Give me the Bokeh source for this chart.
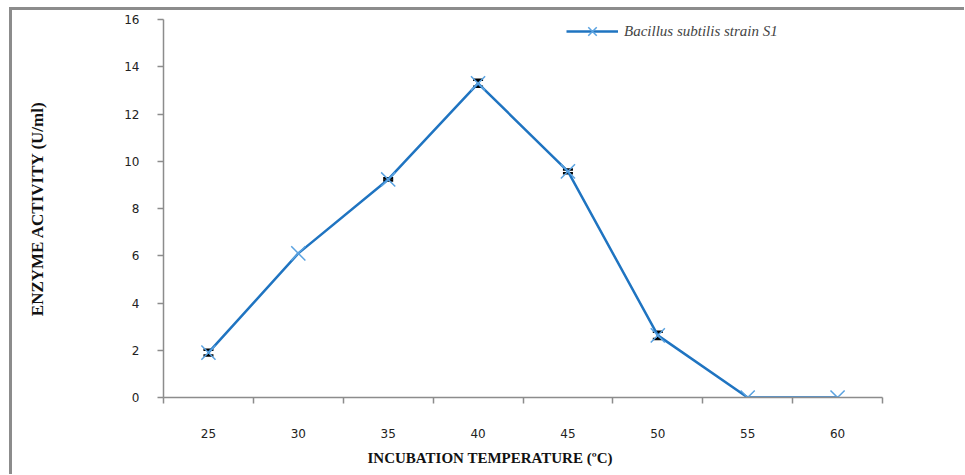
from bokeh.plotting import figure
from bokeh.models import (ColumnDataSource, FixedTicker, Whisker, TeeHead, Legend, LegendItem, Range1d, Title)
from bokeh.embed import file_html
from bokeh.resources import INLINE

# Data
temperatures = [25, 30, 35, 40, 45, 50, 55, 60]
activity = [1.9, 6.1, 9.23, 13.3, 9.57, 2.63, 0.0, 0.0]
error = [0.12, 0.0, 0.05, 0.15, 0.08, 0.15, 0.0, 0.0]
y_ticks = [0, 2, 4, 6, 8, 10, 12, 14, 16]
series_name = "Bacillus subtilis strain S1"
x_title = "INCUBATION TEMPERATURE (ºC)"
y_title = "ENZYME ACTIVITY (U/ml)"

xpos = [i + 0.5 for i in range(len(temperatures))]
src = ColumnDataSource(dict(x=xpos, y=activity))
err_src = ColumnDataSource(dict(
    x=[x for x, e in zip(xpos, error) if e > 0],
    upper=[a + e for a, e in zip(activity, error) if e > 0],
    lower=[a - e for a, e in zip(activity, error) if e > 0],
))

AX = "#8c8c8c"
p = figure(width=955, height=467, output_backend="svg", toolbar_location=None,
           x_range=Range1d(0, len(temperatures)), y_range=Range1d(0, 16),
           min_border_left=151, min_border_right=85, min_border_top=9, min_border_bottom=80,
           styles={"margin-left": "9px", "margin-top": "7px",
                   "border-left": "3px solid #8c8c8c", "border-top": "3px solid #8c8c8c"})
p.outline_line_color = None
p.grid.grid_line_color = None

# x axis: labels at category centres, ticks at boundaries
p.xaxis.ticker = FixedTicker(ticks=xpos, minor_ticks=list(range(len(temperatures) + 1)))
p.xaxis.major_label_overrides = {x: str(t) for x, t in zip(xpos, temperatures)}
p.xaxis.major_tick_line_color = None
p.xaxis.minor_tick_line_color = AX
p.xaxis.minor_tick_out = 6
p.xaxis.minor_tick_in = 0
p.xaxis.minor_tick_line_width = 1.5
p.xaxis.axis_line_color = AX
p.xaxis.axis_line_width = 1.5
p.xaxis.major_label_standoff = 25

p.yaxis.ticker = FixedTicker(ticks=y_ticks)
p.yaxis.minor_tick_line_color = None
p.yaxis.major_tick_line_color = AX
p.yaxis.major_tick_out = 6
p.yaxis.major_tick_in = 0
p.yaxis.major_tick_line_width = 1.5
p.yaxis.axis_line_color = AX
p.yaxis.axis_line_width = 1.5
p.yaxis.major_label_standoff = 18
p.yaxis.axis_label = y_title
p.yaxis.axis_label_standoff = 74

for ax in (p.xaxis, p.yaxis):
    ax.major_label_text_font = "DejaVu Sans"
    ax.major_label_text_font_size = "12px"
    ax.major_label_text_color = "#222222"
    ax.axis_label_text_font = "Liberation Serif"
    ax.axis_label_text_font_style = "bold"
    ax.axis_label_text_color = "#111111"
p.yaxis.axis_label_text_font_size = "17px"

# x title, placed left of the axis centre as in the reference
p.add_layout(Title(text=x_title, align="left", offset=204, standoff=15,
                   text_font="Liberation Serif", text_font_style="bold",
                   text_font_size="15px", text_color="#111111"), "below")

line = p.line("x", "y", source=src, line_color="#1f74c1", line_width=2.5)
marks = p.scatter("x", "y", source=src, marker="x", size=20, line_color="#5aa2e0", line_width=1.5)

wh = Whisker(source=err_src, base="x", upper="upper", lower="lower",
             line_color="black", line_width=2,
             upper_head=TeeHead(size=10, line_color="black", line_width=2.5),
             lower_head=TeeHead(size=10, line_color="black", line_width=2.5))
p.add_layout(wh)

legend = Legend(items=[LegendItem(label=series_name, renderers=[line, marks])],
                location=(403, 351), orientation="horizontal",
                border_line_color=None, background_fill_alpha=0,
                label_text_font="Liberation Serif", label_text_font_style="italic",
                label_text_font_size="15px", glyph_width=52, glyph_height=30,
                label_standoff=6, padding=0, margin=0)
p.add_layout(legend)

open("out.html", "w").write(file_html(p, INLINE))
